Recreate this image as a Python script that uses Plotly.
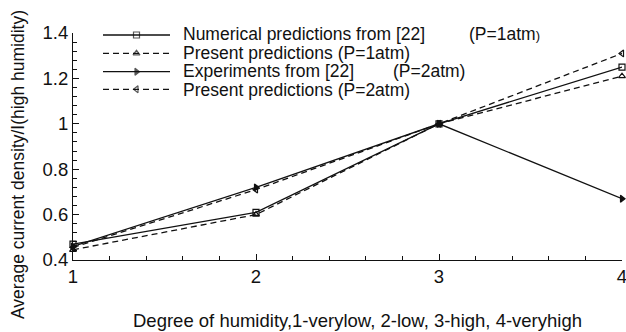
import plotly.graph_objects as go

# Degree of humidity: 1-very low, 2-low, 3-high, 4-very high
humidity = [1, 2, 3, 4]

# Average current density normalised by the high-humidity value
num_22_1atm = [0.47, 0.61, 1.0, 1.25]
present_1atm = [0.445, 0.60, 1.0, 1.21]
exp_22_2atm = [0.46, 0.72, 1.0, 0.67]
present_2atm = [0.455, 0.71, 1.0, 1.31]

names = [
    "Numerical predictions from [22]",
    "Present predictions (P=1atm)",
    "Experiments from [22]",
    "Present predictions (P=2atm)",
]
pressure_tags = ["(P=1atm<span style='font-size:13px'>)</span>", "", "(P=2atm)", ""]
tag_px = [467, None, 391, None]

series = [num_22_1atm, present_1atm, exp_22_2atm, present_2atm]
dashes = ["solid", "6px,4px", "solid", "6px,4px"]
symbols = ["square-open", "triangle-up-open", "triangle-right", "triangle-left-open"]
ink = "#111111"
font_family = "Liberation Sans, Arial, sans-serif"
fsize = 18.5
legend_fsize = 17.5

# plot area in pixels
L, R, T, B = 73, 622, 33, 260
W, H = 626, 332

def px_x(p):
    return (p - L) / (R - L)

def px_y(p):
    return (B - p) / (B - T)

fig = go.Figure()

for vals, dash, sym, nm in zip(series, dashes, symbols, names):
    fig.add_trace(go.Scatter(
        x=humidity, y=vals, mode="lines+markers", name=nm,
        line=dict(color=ink, width=1.3, dash=dash),
        marker=dict(symbol=sym, size=6, color=ink, line=dict(color=ink, width=1.2)),
        cliponaxis=False, showlegend=False,
    ))

# Hand-drawn legend in the upper left, on an overlay axis spanning the plot area
line_y = [px_y(p) for p in (35, 53.3, 71.7, 89.3)]
text_y = [px_y(p) for p in (33.8, 52.8, 71.2, 89.6)]
x0, xm, x1 = px_x(103), px_x(136.5), px_x(170)
for ly, ty, dash, sym, nm, tag, tx in zip(line_y, text_y, dashes, symbols, names,
                                           pressure_tags, tag_px):
    fig.add_trace(go.Scatter(
        x=[x0, xm, x1], y=[ly] * 3, xaxis="x2", yaxis="y2",
        mode="lines+markers",
        line=dict(color=ink, width=1.3, dash=dash),
        marker=dict(symbol=sym, size=[0, 6, 0], color=ink, line=dict(color=ink, width=1.2)),
        cliponaxis=False, showlegend=False, hoverinfo="skip",
    ))
    fig.add_annotation(
        x=px_x(181), y=ty, xref="paper", yref="paper", text=nm,
        xanchor="left", yanchor="middle", showarrow=False,
        font=dict(family=font_family, size=legend_fsize, color=ink),
    )
    if tag:
        fig.add_annotation(
            x=px_x(tx), y=ty, xref="paper", yref="paper", text=tag,
            xanchor="left", yanchor="middle", showarrow=False,
            font=dict(family=font_family, size=legend_fsize, color=ink),
        )

# Axis titles
fig.add_annotation(
    x=px_x(357), y=px_y(320), xref="paper", yref="paper",
    text="Degree of humidity,1-verylow, 2-low, 3-high, 4-veryhigh",
    xanchor="center", yanchor="middle", showarrow=False,
    font=dict(family=font_family, size=fsize, color=ink),
)
fig.add_annotation(
    x=px_x(18), y=px_y(165), xref="paper", yref="paper",
    text="Average current density/I(high humidity)", textangle=-90,
    xanchor="center", yanchor="middle", showarrow=False,
    font=dict(family=font_family, size=17.5, color=ink),
)

axis_common = dict(
    showline=True, linecolor=ink, linewidth=1.2, mirror=False,
    ticks="inside", ticklen=6, tickwidth=1, tickcolor=ink,
    showgrid=False, zeroline=False, automargin=False,
    ticklabeloverflow="allow",
    tickfont=dict(family=font_family, size=fsize, color=ink),
)

fig.update_layout(
    width=W, height=H,
    margin=dict(l=L, r=W - R, t=T, b=H - B),
    paper_bgcolor="white", plot_bgcolor="white",
    font=dict(family=font_family, color=ink),
    xaxis=dict(
        **axis_common, range=[1, 4], tickvals=humidity, ticktext=["1", "2", "3", "4"],
        minor=dict(ticks="inside", ticklen=4, dtick=0.2, tickcolor=ink, tickwidth=1, showgrid=False),
    ),
    yaxis=dict(
        **axis_common, range=[0.4, 1.4], tickvals=[0.4, 0.6, 0.8, 1.0, 1.2, 1.4],
        ticktext=["0.4", "0.6", "0.8", "1", "1.2", "1.4"],
        minor=dict(ticks="inside", ticklen=4, dtick=0.04, tickcolor=ink, tickwidth=1, showgrid=False),
    ),
    xaxis2=dict(overlaying="x", range=[0, 1], visible=False, fixedrange=True),
    yaxis2=dict(overlaying="y", range=[0, 1], visible=False, fixedrange=True),
)

fig.write_html("out.html")
